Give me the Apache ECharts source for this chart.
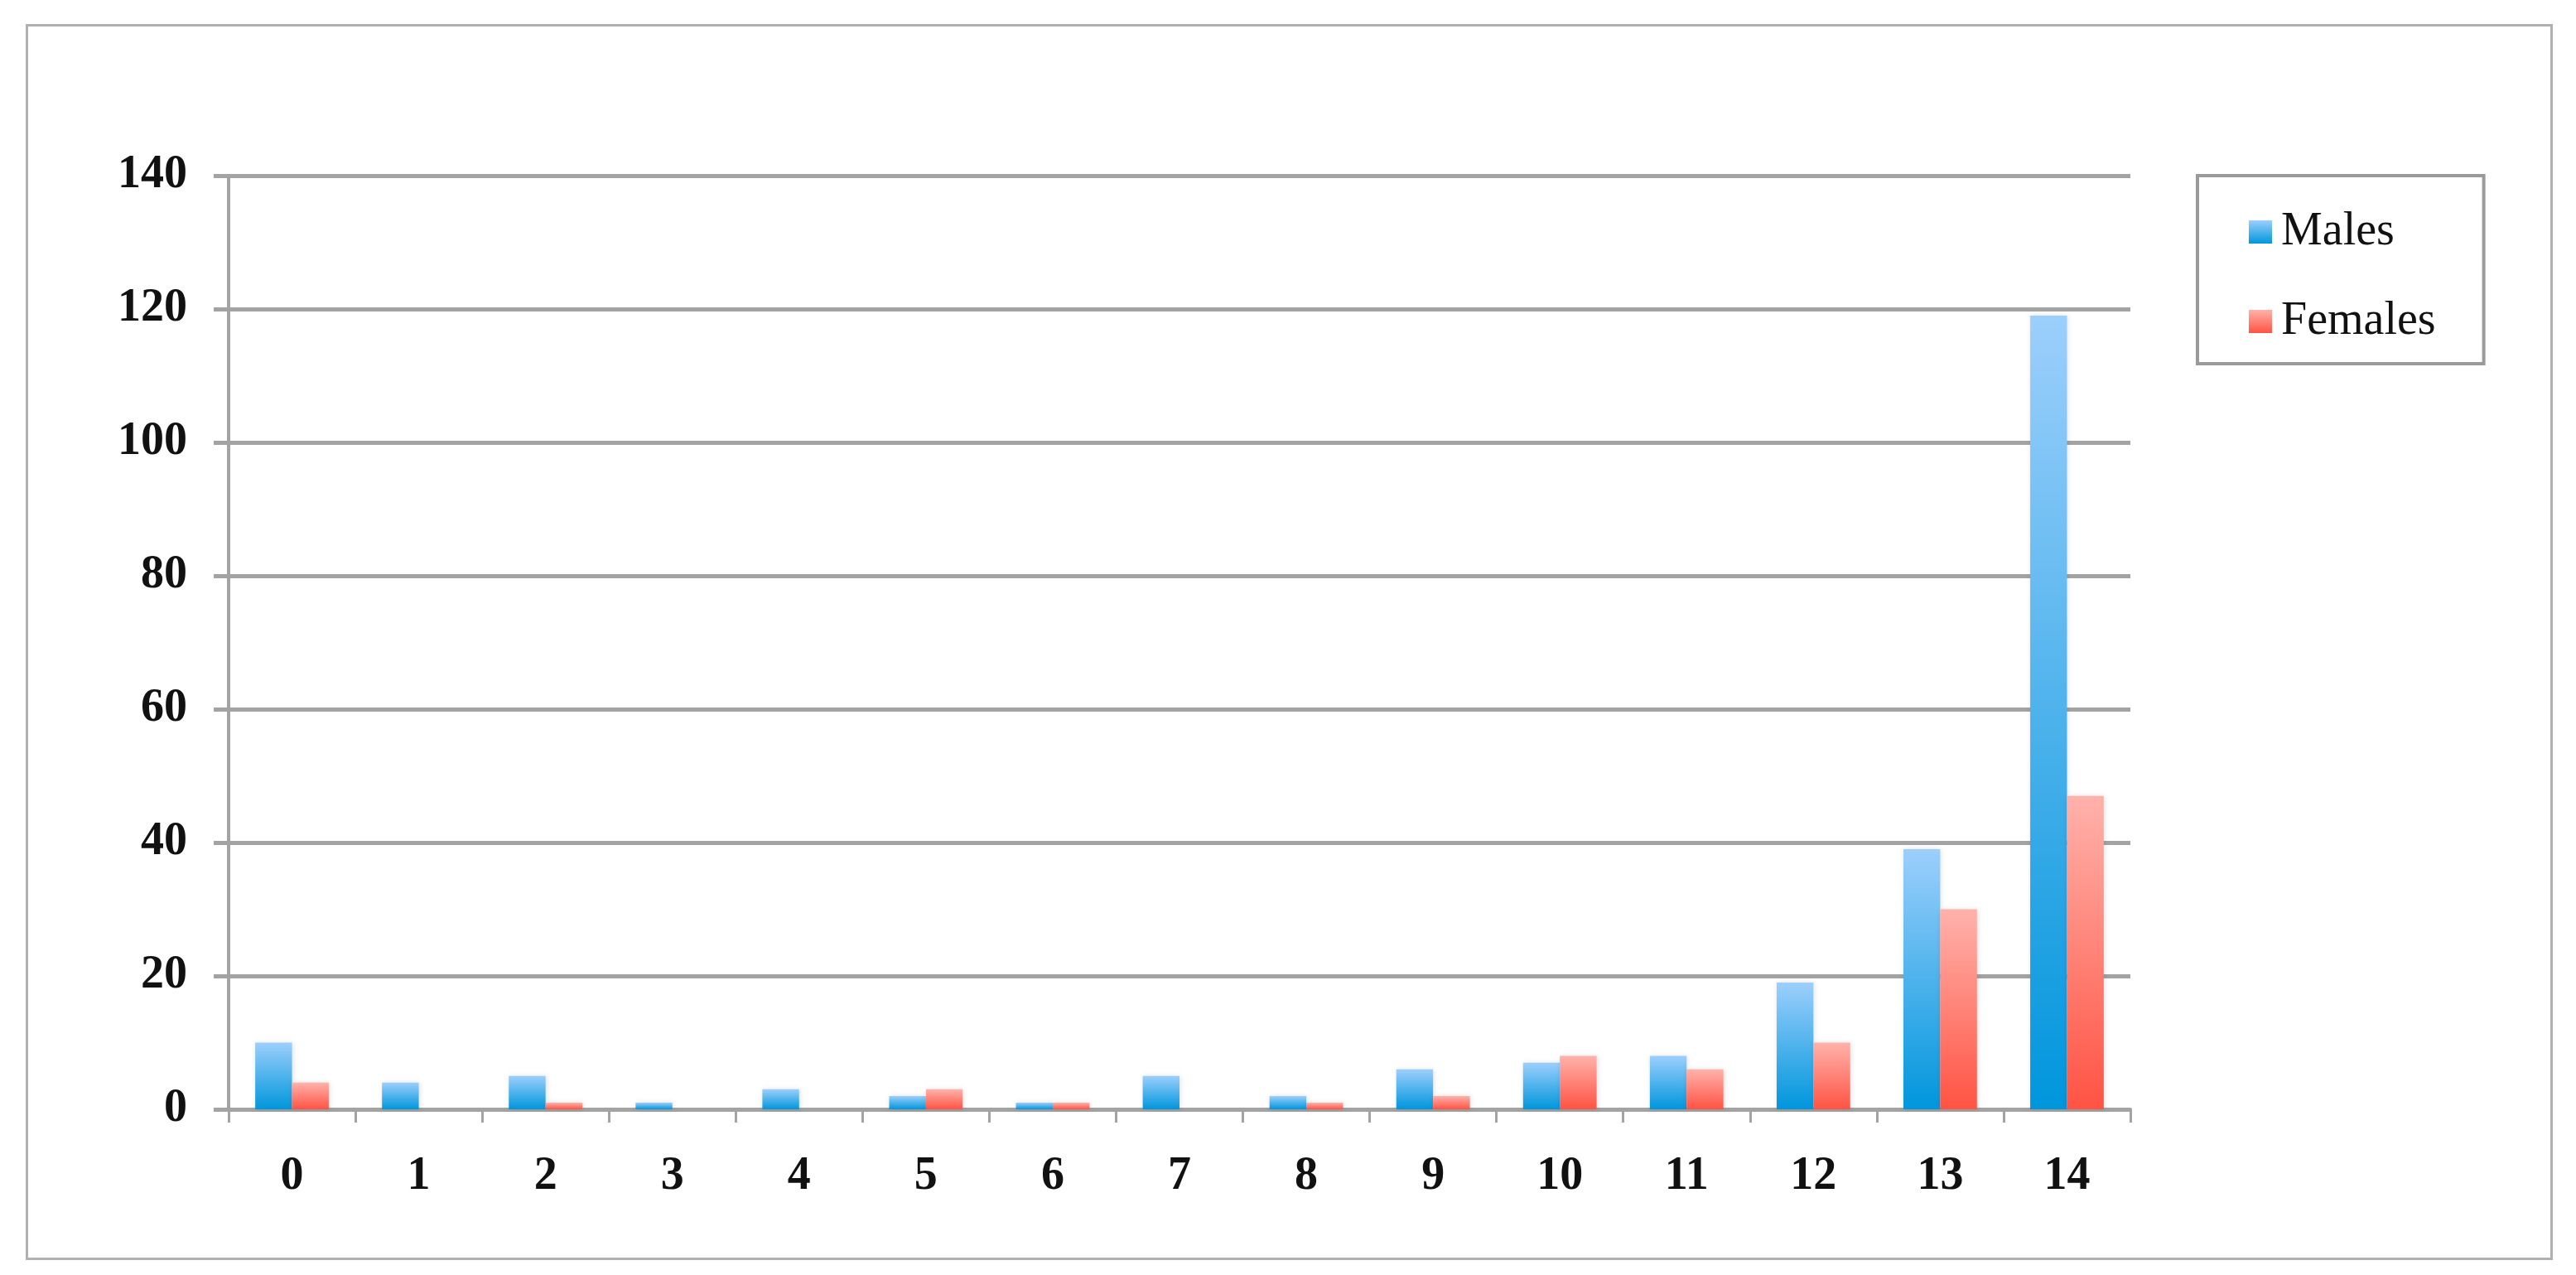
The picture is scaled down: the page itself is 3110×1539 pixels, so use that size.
<!DOCTYPE html>
<html>
<head>
<meta charset="utf-8">
<script src="https://cdn.jsdelivr.net/npm/echarts@6/dist/echarts.min.js"></script>
<style>
html,body{margin:0;padding:0;background:#fff;}
#c{width:3110px;height:1539px;}
</style>
</head>
<body>
<div id="c"></div>
<script>
const categories = ['0','1','2','3','4','5','6','7','8','9','10','11','12','13','14'];
const males   = [10, 4, 5, 1, 3, 2, 1, 5, 2, 6, 7, 8, 19, 39, 119];
const females = [4, 0, 1, 0, 0, 3, 1, 0, 1, 2, 8, 6, 10, 30, 47];
const yTicks = { min: 0, max: 140, interval: 20 };

const chart = echarts.init(document.getElementById('c'), null, {renderer: 'canvas'});
const blueGrad = new echarts.graphic.LinearGradient(0, 0, 0, 1, [
  {offset: 0, color: '#9ccffc'}, {offset: 1, color: '#0096dc'}]);
const redGrad = new echarts.graphic.LinearGradient(0, 0, 0, 1, [
  {offset: 0, color: '#ffb2ab'}, {offset: 1, color: '#ff5343'}]);
const gray = '#a3a3a3';
const serif = '"Liberation Serif", "DejaVu Serif", serif';
const shadow = {shadowBlur: 6, shadowColor: 'rgba(0,0,0,0.12)', shadowOffsetX: 1, shadowOffsetY: 0};

chart.setOption({
  animation: false,
  backgroundColor: '#fff',
  graphic: [{
    type: 'rect', left: 30, top: 28,
    shape: {width: 3048, height: 1489},
    style: {fill: 'none', stroke: '#b0b0b0', lineWidth: 3}
  }],
  grid: {left: 276, right: 3110 - 2572, top: 212, bottom: 1539 - 1339, containLabel: false},
  legend: {
    orient: 'vertical', left: 2653, top: 212,
    itemWidth: 28, itemHeight: 28, itemGap: 46,
    padding: [37, 58, 20, 62],
    borderColor: '#9a9a9a', borderWidth: 4,
    icon: 'rect',
    textStyle: {fontFamily: serif, fontSize: 56, color: '#111', lineHeight: 62, padding: [0,0,0,6]},
    data: ['Males', 'Females']
  },
  xAxis: {
    type: 'category', data: categories,
    axisLine: {lineStyle: {color: gray, width: 4}},
    axisTick: {show: true, length: 16, lineStyle: {color: gray, width: 3}},
    axisLabel: {fontFamily: serif, fontWeight: 'bold', fontSize: 56, color: '#111', margin: 54}
  },
  yAxis: {
    type: 'value', min: yTicks.min, max: yTicks.max, interval: yTicks.interval,
    axisLine: {show: true, lineStyle: {color: gray, width: 4}},
    axisTick: {show: true, length: 18, lineStyle: {color: gray, width: 5}},
    splitLine: {lineStyle: {color: gray, width: 5}},
    axisLabel: {fontFamily: serif, fontWeight: 'bold', fontSize: 56, color: '#111', margin: 50}
  },
  series: [
    {name: 'Males', type: 'bar', data: males, barGap: '0%', barCategoryGap: '42%',
     itemStyle: Object.assign({color: blueGrad}, shadow)},
    {name: 'Females', type: 'bar', data: females,
     itemStyle: Object.assign({color: redGrad}, shadow)}
  ]
});
</script>
</body>
</html>
